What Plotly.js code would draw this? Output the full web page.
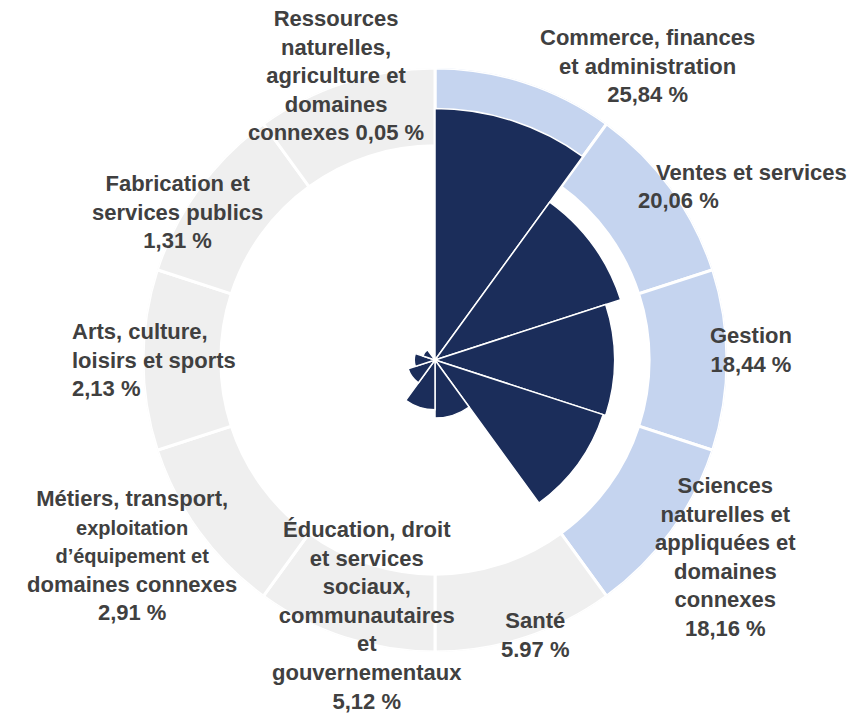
<!DOCTYPE html>
<html>
<head>
<meta charset="utf-8">
<script src="https://cdn.plot.ly/plotly-3.0.1.min.js"></script>
<style>
  html, body { margin: 0; padding: 0; background: #fff; }
  #chart { width: 859px; height: 715px; }
</style>
</head>
<body>
<div id="chart"></div>
<script>
// Occupational groups, clockwise from the top
const categories = [
  'Commerce, finances et administration',
  'Ventes et services',
  'Gestion',
  'Sciences naturelles et appliquées et domaines connexes',
  'Santé',
  'Éducation, droit et services sociaux, communautaires et gouvernementaux',
  'Métiers, transport, exploitation d’équipement et domaines connexes',
  'Arts, culture, loisirs et sports',
  'Fabrication et services publics',
  'Ressources naturelles, agriculture et domaines connexes'
];
const shares = [25.84, 20.06, 18.44, 18.16, 5.97, 5.12, 2.91, 2.13, 1.31, 0.05];
const shareLabels = ['25,84 %', '20,06 %', '18,44 %', '18,16 %', '5.97 %',
  '5,12 %', '2,91 %', '2,13 %', '1,31 %', '0,05 %'];
// top four groups are highlighted in the outer ring
const highlighted = [true, true, true, true, false, false, false, false, false, false];

// outer ring spans 22..30 on the radial scale
const ringStart = 22;
const ringEnd = 30;

const W = 859, H = 715;
const px = x => x / W;
const py = y => 1 - y / H;

const NAVY = '#1b2d5a';
const TEXT = '#404040';

const ring = {
  type: 'barpolar',
  theta: categories,
  base: categories.map(() => ringStart),
  r: categories.map(() => ringEnd - ringStart),
  marker: {
    color: highlighted.map(h => h ? '#c5d4ef' : '#efefef'),
    line: { color: '#ffffff', width: 3 }
  },
  hoverinfo: 'skip'
};

const bars = {
  type: 'barpolar',
  theta: categories,
  r: shares,
  marker: { color: NAVY, line: { color: '#ffffff', width: 1.5 } },
  hovertemplate: '%{theta}<br>%{r} %<extra></extra>'
};

// label blocks: [text, x, y, align, xanchor] in pixels
const small = s => '<span style="font-size:20px">' + s + '</span>';
const labels = [
  ['Commerce, finances<br>et administration<br>' + shareLabels[0], 647, 66, 'center', 'center'],
  ['Ventes et services', 751, 172, 'center', 'center'],
  [shareLabels[1], 678, 200, 'center', 'center'],
  ['Gestion<br>' + shareLabels[2], 751, 350, 'center', 'center'],
  ['Sciences<br>naturelles et<br>appliquées et<br>domaines<br>connexes<br>' + shareLabels[3], 725, 557, 'center', 'center'],
  ['Santé<br>' + shareLabels[4], 535, 635, 'center', 'center'],
  ['Éducation, droit<br>et services<br>sociaux,<br>communautaires<br>et<br>gouvernementaux<br>' + shareLabels[5], 367, 615, 'center', 'center'],
  ['Métiers, transport,<br>' + small('exploitation') + '<br>' + small('d’équipement et') + '<br>domaines connexes<br>' + shareLabels[6], 132, 555, 'center', 'center'],
  ['Arts, culture,<br>loisirs et sports<br>' + shareLabels[7], 70, 360, 'left', 'left'],
  ['Fabrication et<br>services publics<br>' + shareLabels[8], 177, 212, 'center', 'center'],
  ['Ressources<br>naturelles,<br>agriculture et<br>domaines<br>connexes ' + shareLabels[9], 336, 76, 'center', 'center']
];

const annotations = labels.map(([text, x, y, align, xanchor]) => ({
  text: text,
  x: px(x),
  y: py(y),
  xref: 'paper',
  yref: 'paper',
  xanchor: xanchor,
  yanchor: 'middle',
  align: align,
  showarrow: false,
  font: { family: 'Liberation Sans, Arial, sans-serif', size: 22, weight: 'bold', color: TEXT }
}));

const layout = {
  width: W,
  height: H,
  margin: { l: 0, r: 0, t: 0, b: 0 },
  paper_bgcolor: '#ffffff',
  showlegend: false,
  polar: {
    domain: { x: [px(143), px(727)], y: [py(652), py(68)] },
    bgcolor: '#ffffff',
    barmode: 'overlay',
    bargap: 0,
    radialaxis: { visible: false, range: [0, ringEnd] },
    angularaxis: { visible: false, direction: 'clockwise', rotation: 72 }
  },
  annotations: annotations
};

Plotly.newPlot('chart', [ring, bars], layout, { displayModeBar: false, staticPlot: true });
</script>
</body>
</html>
